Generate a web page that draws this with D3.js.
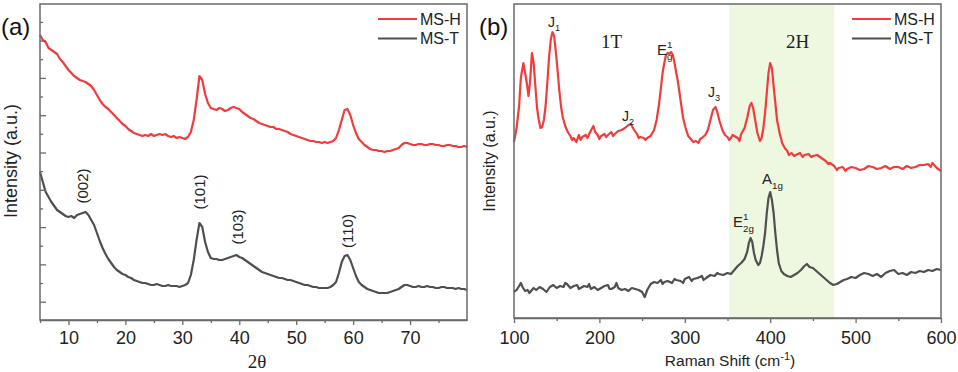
<!DOCTYPE html>
<html><head><meta charset="utf-8">
<script src="https://cdn.jsdelivr.net/npm/d3@7"></script>
<style>body{margin:0;background:#fff}svg{display:block}</style>
</head><body>
<svg id="c" width="958" height="372"></svg>
<script>
// ---------- DATA ----------
// Panel (a) XRD: [2theta, intensity a.u.]
const xrdH = [[5,285],[5.5,280],[6,278],[6.5,272],[7,270],[7.5,268],[8,266],[8.5,261],[9,258],[9.5,254],[10,250],[10.5,247],[11,244],[11.5,242],[12,240],[12.5,239],[13,238],[13.5,236],[14,234],[14.5,230],[15,225],[15.5,220],[16,216],[16.5,213],[17,211],[17.5,208],[18,205],[18.5,202],[19,199],[19.5,196],[20,194],[20.5,191],[21,189],[21.5,187],[22,186],[23,184],[23.5,185],[24,184],[24.5,186],[25,184],[25.5,185],[26,186],[26.5,185],[27,186],[27.5,184],[28,183],[28.5,184],[29,182],[29.5,183],[30,182],[30.5,181],[31,183],[31.5,188],[32,200],[32.5,220],[33,244],[33.5,240],[34,226],[34.5,217],[35,212],[35.5,211],[36,210],[36.5,212],[37,211],[37.5,209],[38,210],[38.5,212],[39,213],[39.5,212],[40,211],[40.5,208],[41,206],[41.5,204],[42,202],[42.5,201],[43,199],[43.5,197],[44,196],[44.5,195],[45,194],[45.5,193],[46,193],[46.5,191],[47,191],[47.5,190],[48,189],[48.5,188],[49,186],[49.5,185],[50,184],[50.5,183],[51,182],[51.5,181],[52,180],[52.5,179],[53,179],[53.5,178],[54,178],[54.5,177],[55,178],[55.5,177],[56,178],[56.5,179],[57,182],[57.5,190],[58,200],[58.5,210],[59,211],[59.5,205],[60,195],[60.5,187],[61,181],[61.5,178],[62,175],[62.5,173],[63,171],[63.5,170],[64,170],[64.5,169],[65,169],[65.5,168],[66,169],[66.5,169],[67,170],[67.5,171],[68,172],[68.5,175],[69,177],[69.5,177],[70,176],[70.5,175],[71,175],[71.5,176],[72,176],[72.5,175],[73,175],[73.5,176],[74,176],[74.5,175],[75,175],[75.5,174],[76,174],[76.5,175],[77,175],[77.5,174],[78,174],[78.5,173],[79,173],[79.5,174],[80,173]];
const xrdT = [[5,148],[5.5,138],[6,128],[6.5,123],[7,118],[7.5,114],[8,110],[8.5,108],[9,106],[9.5,104],[10,103],[10.5,104],[11,102],[11.5,105],[12,106],[12.5,107],[13,108],[13.5,105],[14,100],[14.5,95],[15,87],[15.5,79],[16,72],[16.5,66],[17,61],[17.5,57],[18,53],[18.5,50],[19,48],[19.5,46],[20,45],[20.5,43],[21,42],[21.5,40],[22,39],[22.5,38],[23,37],[23.5,37],[24,36],[24.5,35],[25,35],[25.5,36],[26,35],[26.5,34],[27,34],[27.5,35],[28,34],[28.5,34],[29,34],[29.5,33],[30,34],[30.5,35],[31,37],[31.5,45],[32,60],[32.5,80],[33,97],[33.5,93],[34,78],[34.5,68],[35,62],[35.5,61],[36,61],[36.5,60],[37,60],[37.5,61],[38,62],[38.5,63],[39,64],[39.5,65],[40,63],[40.5,62],[41,60],[41.5,58],[42,56],[42.5,54],[43,52],[43.5,50],[44,48],[44.5,47],[45,46],[45.5,45],[46,44],[46.5,43],[47,42],[47.5,42],[48,41],[48.5,40],[49,40],[49.5,39],[50,38],[50.5,37],[51,36],[51.5,35],[52,35],[52.5,34],[53,33],[53.5,33],[54,32],[54.5,32],[55,32],[55.5,32],[56,33],[56.5,35],[57,38],[57.5,47],[58,58],[58.5,64],[59,65],[59.5,60],[60,52],[60.5,44],[61,38],[61.5,35],[62,33],[62.5,31],[63,30],[63.5,29],[64,28],[64.5,27],[65,27],[65.5,27],[66,27],[66.5,28],[67,29],[67.5,30],[68,31],[68.5,33],[69,35],[69.5,35],[70,34],[70.5,33],[71,33],[71.5,34],[72,33],[72.5,33],[73,34],[73.5,33],[74,33],[74.5,32],[75,32],[75.5,33],[76,33],[76.5,32],[77,32],[77.5,32],[78,31],[78.5,32],[79,31],[79.5,31],[80,30]];
// Panel (b) Raman: [shift cm-1, intensity a.u.]
const ramH = [[100,176],[103,190],[106,212],[108,240],[111,255],[113,245],[115,235],[117,222],[119,238],[121,265],[123,255],[125,232],[127,210],[129,198],[131,190],[133,191],[135,198],[137,212],[139,235],[141,260],[143,278],[145,286],[147,282],[149,266],[151,248],[153,228],[155,212],[157,201],[160,192],[163,186],[166,182],[168,178],[170,180],[173,176],[176,183],[178,178],[180,181],[184,183],[186,180],[188,184],[191,189],[193,192],[195,186],[198,183],[200,179],[202,182],[206,184],[208,181],[210,183],[214,186],[216,182],[218,184],[222,187],[226,188],[230,190],[234,193],[237,194],[240,189],[244,184],[246,180],[248,181],[252,180],[254,178],[256,180],[260,182],[264,188],[267,198],[270,215],[272,230],[274,245],[276,255],[278,263],[280,265],[282,264],[284,266],[286,263],[288,255],[290,245],[292,236],[294,224],[296,212],[298,200],[301,190],[304,182],[307,179],[310,176],[313,177],[316,175],[318,179],[320,180],[324,183],[327,188],[330,198],[333,208],[336,211],[338,206],[341,196],[344,188],[347,183],[350,181],[352,178],[354,180],[356,183],[358,182],[362,180],[364,177],[366,184],[370,190],[373,200],[376,212],[378,215],[380,210],[382,200],[385,185],[388,177],[390,180],[392,190],[394,205],[396,225],[398,245],[400,255],[402,250],[404,232],[406,215],[408,198],[411,185],[414,175],[417,170],[420,167],[422,163],[425,165],[428,162],[430,163],[435,165],[438,161],[440,163],[445,164],[448,161],[450,162],[455,163],[460,160],[465,157],[468,154],[470,155],[475,152],[478,148],[480,150],[485,151],[488,147],[490,149],[495,151],[500,150],[505,148],[510,149],[515,152],[520,151],[525,149],[530,150],[535,152],[540,149],[545,151],[550,151],[555,149],[560,152],[565,150],[570,151],[575,153],[580,153],[585,154],[588,151],[590,155],[595,150],[600,147]];
const ramT = [[100,26],[103,28],[106,32],[108,35],[110,31],[113,27],[116,28],[118,25],[120,27],[123,30],[126,28],[130,31],[134,29],[138,26],[142,31],[146,33],[150,30],[154,32],[158,31],[160,35],[162,34],[166,30],[170,32],[174,33],[176,29],[178,30],[182,32],[186,31],[188,34],[190,29],[194,31],[198,28],[202,30],[206,32],[210,33],[212,29],[214,29],[218,31],[220,35],[222,30],[226,28],[230,29],[234,27],[238,30],[242,29],[246,28],[250,26],[253,21],[256,28],[260,34],[264,36],[268,35],[272,38],[274,34],[276,36],[280,37],[285,35],[288,39],[290,38],[295,37],[298,35],[300,39],[305,41],[308,37],[310,39],[315,40],[320,42],[322,38],[325,40],[330,43],[335,42],[338,45],[340,44],[345,43],[350,45],[354,44],[358,48],[362,52],[366,55],[370,59],[373,66],[375,75],[377,80],[379,76],[381,65],[383,58],[386,53],[388,55],[390,62],[392,72],[394,85],[396,105],[398,120],[400,126],[402,118],[404,105],[406,85],[408,68],[410,55],[413,47],[416,44],[420,42],[424,41],[428,43],[432,45],[436,48],[440,52],[443,54],[446,51],[450,50],[454,47],[458,44],[462,41],[466,38],[470,35],[474,33],[478,34],[482,36],[486,38],[490,39],[495,41],[500,40],[505,43],[510,45],[515,44],[520,42],[525,44],[530,41],[535,45],[540,47],[545,48],[550,44],[555,45],[560,43],[565,46],[570,45],[575,47],[580,46],[585,48],[590,47],[595,49],[600,48]];

const xTicksA = [10,20,30,40,50,60,70];
const xMinorA = [5,15,25,35,45,55,65,75];
const yMajorA = [18.3,55.6,92.9,130.2,167.5,204.8,242.1,279.4];
const yMinorA = [37,74.3,111.6,148.9,186.2,223.5,260.8,298.1];
const xTicksB = [100,200,300,400,500,600];
const xMinorB = [150,250,350,450,550];
const band2H = [352,475];
const seriesNames = ["MS-H","MS-T"];

// ---------- STYLE ----------
const RED = "#f23b3b", DARK = "#4f4f4f", FRAME = "#6a6a6a";
const SANS = "'Liberation Sans', Arial, sans-serif";
const SERIF = "'Liberation Serif', 'Times New Roman', serif";

const svg = d3.select("#c");

function panel(cfg){
  const g = svg.append("g");
  const x = d3.scaleLinear().domain(cfg.xd).range([cfg.l, cfg.r]);
  const y = d3.scaleLinear().domain(cfg.yd).range([cfg.b, cfg.t]);
  if (cfg.band){
    g.append("rect").attr("x", x(cfg.band[0])).attr("y", cfg.t)
      .attr("width", x(cfg.band[1]) - x(cfg.band[0])).attr("height", cfg.b - cfg.t)
      .attr("fill", "#eef7e0");
  }
  const line = d3.line().x(d=>x(d[0])).y(d=>y(d[1]));
  cfg.series.forEach((s,i)=>{
    g.append("path").datum(s.data).attr("d", line).attr("fill","none")
      .attr("stroke", s.color).attr("stroke-width", 2.2).attr("stroke-linejoin","round");
  });
  // frame
  g.append("rect").attr("x", cfg.l).attr("y", cfg.t).attr("width", cfg.r-cfg.l).attr("height", cfg.b-cfg.t)
    .attr("fill","none").attr("stroke", FRAME).attr("stroke-width", 1.5);
  // x axis major
  const ax = g.append("g").attr("transform", `translate(0,${cfg.b})`)
    .call(d3.axisBottom(x).tickValues(cfg.xt).tickSizeInner(5).tickSizeOuter(0).tickPadding(cfg.pad).tickFormat(d3.format("d")));
  ax.select(".domain").attr("stroke", FRAME).attr("stroke-width",1.5);
  ax.selectAll(".tick line").attr("stroke", FRAME).attr("stroke-width",1.3);
  ax.selectAll("text").attr("font-family", SANS).attr("font-size", 18).attr("fill","#222");
  const axm = g.append("g").attr("transform", `translate(0,${cfg.b})`)
    .call(d3.axisBottom(x).tickValues(cfg.xm).tickSizeInner(3).tickSizeOuter(0).tickFormat(""));
  axm.select(".domain").remove();
  axm.selectAll(".tick line").attr("stroke", FRAME).attr("stroke-width",1.3);
  if (cfg.ym){
    [[cfg.ym, 6],[cfg.yn, 3]].forEach(([vals, len])=>{
      const ay = g.append("g").attr("transform", `translate(${cfg.l},0)`)
        .call(d3.axisLeft(y).tickValues(vals).tickSizeInner(-len).tickSizeOuter(0).tickFormat(""));
      ay.select(".domain").remove();
      ay.selectAll(".tick line").attr("stroke", FRAME).attr("stroke-width",1.3);
    });
  }
  // legend
  cfg.series.forEach((s,i)=>{
    const ly = 19 + i*19.5;
    g.append("line").attr("x1", cfg.lg).attr("x2", cfg.lg+39).attr("y1", ly).attr("y2", ly)
      .attr("stroke", s.color).attr("stroke-width", 2);
    g.append("text").attr("x", cfg.lg+42).attr("y", ly).attr("dy","0.36em")
      .attr("font-family", SANS).attr("font-size", 16).attr("fill","#222").text(seriesNames[i]);
  });
  return {g,x,y};
}

const A = panel({l:40, r:467, t:4, b:320, xd:[5,80], yd:[0,316], xt:xTicksA, xm:xMinorA, ym:yMajorA, yn:yMinorA, pad:6.5,
  lg:378, series:[{data:xrdH, color:RED},{data:xrdT, color:DARK}]});
const B = panel({l:514, r:941, t:4, b:318, xd:[100,600], yd:[0,314], xt:xTicksB, xm:xMinorB, pad:8.5, band:band2H,
  lg:852, series:[{data:ramH, color:RED},{data:ramT, color:DARK}]});

function txt(x,y,s,opt={}){
  return svg.append("text").attr("x",x).attr("y",y).attr("font-family",opt.ff||SANS)
    .attr("font-size",opt.fs||16).attr("fill",opt.fill||"#111").attr("text-anchor",opt.anchor||"start").text(s);
}
// panel letters
txt(1, 35, "(a)", {fs:24});
txt(479, 35, "(b)", {fs:24});
// y labels
[[11,161,18],[489,161,16]].forEach(([cx,cy,fs])=>{
  svg.append("text").attr("transform",`translate(${cx},${cy}) rotate(-90)`).attr("text-anchor","middle")
    .attr("dy","0.35em").attr("font-family",SANS).attr("font-size",fs).attr("fill","#222").text("Intensity (a.u.)");
});
// x titles
txt(257, 368, "2θ", {ff:SERIF, fs:19, anchor:"middle", fill:"#222"});
const rt = txt(730, 366, "Raman Shift (cm", {fs:15.5, anchor:"middle", fill:"#222"});
rt.append("tspan").attr("dy",-6).attr("font-size",11).text("-1");
rt.append("tspan").attr("dy",6).text(")");

// XRD peak labels (rotated)
const peaks = [["(002)",12.5,186],["(101)",33,192],["(103)",39.8,227],["(110)",59,231]];
peaks.forEach(([s,xv,cy])=>{
  svg.append("text").attr("transform",`translate(${A.x(xv)},${cy}) rotate(-90)`).attr("text-anchor","middle")
    .attr("dy","0.35em").attr("font-family",SANS).attr("font-size",15).attr("fill","#222").text(s);
});

// Raman labels
function sub(x,y,main,subs,sups,fs){
  const t = txt(x,y,main,{fs:fs, fill:"#222"});
  if (sups){ t.append("tspan").attr("dy",-fs*0.45).attr("font-size",fs*0.65).text(sups);
             if (subs) t.append("tspan").attr("dx",-fs*0.36).attr("dy",fs*0.8).attr("font-size",fs*0.65).text(subs); }
  else if (subs){ t.append("tspan").attr("dy",fs*0.3).attr("font-size",fs*0.65).text(subs); }
  return t;
}
sub(548, 27, "J", "1", null, 14);
sub(622, 121, "J", "2", null, 14);
sub(708, 97, "J", "3", null, 14);
sub(657, 55, "E", "g", "1", 15);
sub(762, 184, "A", "1g", null, 15);
sub(733, 227, "E", "2g", "1", 15);
txt(601, 48, "1T", {ff:SERIF, fs:19, fill:"#222"});
txt(786, 48, "2H", {ff:SERIF, fs:19, fill:"#222"});
</script>
</body></html>
